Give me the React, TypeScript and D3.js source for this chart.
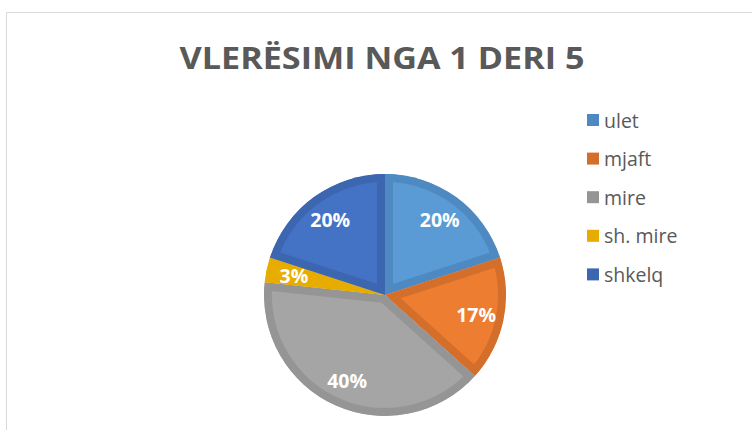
import React from "react";
import * as d3 from "d3";

const categories = ["ulet", "mjaft", "mire", "sh. mire", "shkelq"];
const counts = [6, 5, 12, 1, 6];
const fillColors = ["#5B9BD5", "#ED7D31", "#A5A5A5", "#E8AE00", "#4472C4"];
const edgeColors = ["#4E8AC1", "#D46F2B", "#959595", "#E6AC00", "#3D66B0"];
const titleText = "VLERËSIMI NGA 1 DERI 5";

const W = 752;
const H = 430;
const cx = 385;
const cy = 295;
const R = 121;

export default function App() {
  const total = d3.sum(counts);
  const pie = d3.pie<number>().sort(null).value((d) => d)(counts);
  const arc = d3.arc<d3.PieArcDatum<number>>().innerRadius(0).outerRadius(R);
  const labelR = R * 0.77;
  const fmt = (v: number) => `${Math.round((v / total) * 100)}%`;

  return (
    <svg
      width={W}
      height={H}
      style={{ position: "absolute", left: 0, top: 0, background: "#fff" }}
      fontFamily="'Open Sans', sans-serif"
    >
      <rect x={0} y={0} width={W} height={H} fill="#fff" />
      <path d={`M6.5,${H} V12.5 H${W}`} fill="none" stroke="#D9D9D9" strokeWidth={1} />
      <text
        x={382}
        y={69}
        textAnchor="middle"
        fontSize={31}
        fontWeight="bold"
        fill="#595959"
        textLength={405}
        lengthAdjust="spacingAndGlyphs"
      >
        {titleText}
      </text>
      <defs>
        {pie.map((p, i) => (
          <clipPath id={`clip${i}`} key={i}>
            <path d={arc(p) || ""} />
          </clipPath>
        ))}
      </defs>
      <g transform={`translate(${cx},${cy})`}>
        {pie.map((p, i) => (
          <path
            key={i}
            d={arc(p) || ""}
            fill={fillColors[i]}
            stroke={edgeColors[i]}
            strokeWidth={16}
            strokeLinejoin="miter"
            clipPath={`url(#clip${i})`}
          />
        ))}
        {pie.map((p, i) => {
          const a = (p.startAngle + p.endAngle) / 2;
          const x = labelR * Math.sin(a);
          const y = -labelR * Math.cos(a);
          return (
            <text
              key={`t${i}`}
              x={x}
              y={y}
              textAnchor="middle"
              dominantBaseline="central"
              fontSize={19.5}
              fontWeight="bold"
              fill="#fff"
            >
              {fmt(p.data)}
            </text>
          );
        })}
      </g>
      <g>
        {categories.map((c, i) => {
          const y = 120 + i * 38.6;
          return (
            <g key={c}>
              <rect x={587} y={y - 6} width={12} height={12} fill={edgeColors[i]} />
              <text x={604} y={y} dominantBaseline="central" fontSize={19.5} fill="#595959">
                {c}
              </text>
            </g>
          );
        })}
      </g>
    </svg>
  );
}
